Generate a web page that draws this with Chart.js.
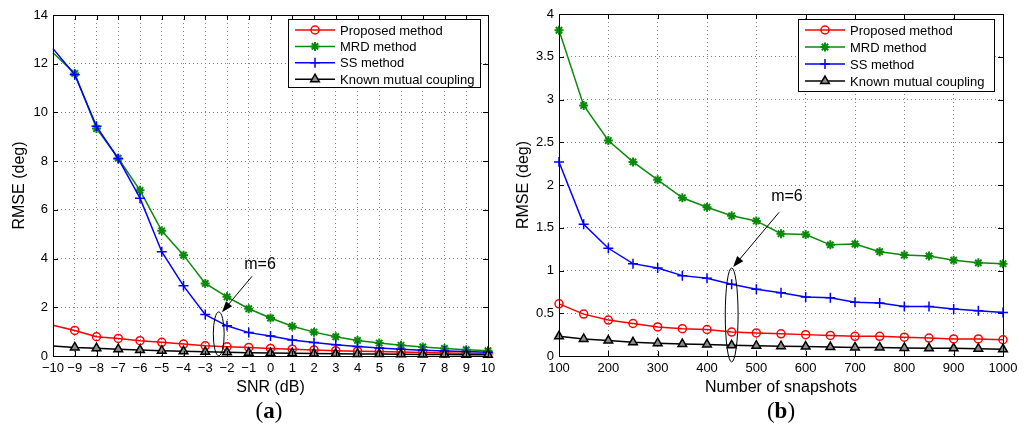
<!DOCTYPE html>
<html>
<head>
<meta charset="utf-8">
<script src="https://cdn.jsdelivr.net/npm/chart.js"></script>
<style>
  html, body { margin: 0; padding: 0; background: #fff; }
  body { width: 1024px; height: 438px; position: relative; overflow: hidden; }
  .panel { position: absolute; top: 0; width: 512px; height: 438px; }
  .caption { position: absolute; top: 398px; font-family: "Liberation Serif", serif; font-size: 23px; color: #000; transform: translateX(-50%); }
</style>
</head>
<body>
<div class="panel" style="left:0"><canvas id="chartA"></canvas></div>
<div class="panel" style="left:512px"><canvas id="chartB"></canvas></div>
<div class="caption" style="left:269px">(<b>a</b>)</div>
<div class="caption" style="left:781px">(<b>b</b>)</div>
<script>
// (a) RMSE against SNR
const snr = [-10, -9, -8, -7, -6, -5, -4, -3, -2, -1, 0, 1, 2, 3, 4, 5, 6, 7, 8, 9, 10];
const proposedA = [1.26, 1.05, 0.79, 0.72, 0.63, 0.56, 0.49, 0.42, 0.38, 0.35, 0.31, 0.28, 0.25, 0.22, 0.2, 0.18, 0.16, 0.14, 0.12, 0.11, 0.1];
const mrdA = [12.45, 11.6, 9.34, 8.12, 6.8, 5.14, 4.14, 2.98, 2.43, 1.94, 1.56, 1.22, 0.98, 0.79, 0.64, 0.53, 0.44, 0.37, 0.31, 0.26, 0.22];
const ssA = [12.62, 11.55, 9.43, 8.1, 6.48, 4.28, 2.88, 1.7, 1.24, 0.96, 0.82, 0.66, 0.55, 0.46, 0.39, 0.33, 0.28, 0.24, 0.21, 0.18, 0.15];
const knownA = [0.41, 0.35, 0.32, 0.28, 0.25, 0.22, 0.19, 0.17, 0.15, 0.13, 0.12, 0.11, 0.1, 0.09, 0.085, 0.08, 0.07, 0.065, 0.06, 0.055, 0.05];
const xTicksA = [-10, -9, -8, -7, -6, -5, -4, -3, -2, -1, 0, 1, 2, 3, 4, 5, 6, 7, 8, 9, 10];
const yTicksA = [0, 2, 4, 6, 8, 10, 12, 14];

// (b) RMSE against number of snapshots
const snapshots = [100, 150, 200, 250, 300, 350, 400, 450, 500, 550, 600, 650, 700, 750, 800, 850, 900, 950, 1000];
const proposedB = [0.61, 0.49, 0.42, 0.38, 0.34, 0.32, 0.31, 0.28, 0.27, 0.26, 0.25, 0.24, 0.23, 0.23, 0.22, 0.21, 0.2, 0.2, 0.19];
const mrdB = [3.81, 2.93, 2.52, 2.27, 2.06, 1.85, 1.74, 1.64, 1.58, 1.43, 1.42, 1.3, 1.31, 1.22, 1.18, 1.17, 1.12, 1.09, 1.08];
const ssB = [2.27, 1.54, 1.26, 1.08, 1.03, 0.94, 0.91, 0.84, 0.78, 0.74, 0.69, 0.68, 0.63, 0.62, 0.58, 0.58, 0.55, 0.53, 0.51];
const knownB = [0.23, 0.2, 0.18, 0.16, 0.15, 0.14, 0.135, 0.125, 0.12, 0.115, 0.11, 0.105, 0.1, 0.1, 0.095, 0.09, 0.09, 0.085, 0.08];
const xTicksB = [100, 200, 300, 400, 500, 600, 700, 800, 900, 1000];
const yTicksB = [0, 0.5, 1, 1.5, 2, 2.5, 3, 3.5, 4];

const legendNames = ['Proposed method', 'MRD method', 'SS method', 'Known mutual coupling'];

const FONT = '"Liberation Sans", Arial, sans-serif';

function drawMarker(ctx, style, x, y, r, stroke, fill) {
  ctx.save();
  ctx.strokeStyle = stroke;
  ctx.fillStyle = fill;
  ctx.lineWidth = style === 'star' ? 2 : 1.5;
  ctx.beginPath();
  if (style === 'circle') {
    ctx.arc(x, y, r, 0, Math.PI * 2);
  } else if (style === 'triangle') {
    for (let k = 0; k < 3; k++) {
      const a = k * Math.PI * 2 / 3;
      const px = x + Math.sin(a) * r, py = y - Math.cos(a) * r;
      k ? ctx.lineTo(px, py) : ctx.moveTo(px, py);
    }
    ctx.closePath();
    ctx.fill();
  } else {
    const n = style === 'star' ? 8 : 4;
    for (let k = 0; k < n; k++) {
      const a = k * Math.PI / (n / 2);
      ctx.moveTo(x, y);
      ctx.lineTo(x + Math.cos(a) * r, y + Math.sin(a) * r);
    }
  }
  ctx.stroke();
  ctx.restore();
}

// frame, inward ticks, legend box and the m=6 note
const matlabLook = {
  id: 'matlabLook',
  afterDraw(chart, args, opts) {
    const {ctx, chartArea: a, scales: {x, y}} = chart;
    ctx.save();
    ctx.strokeStyle = '#000';
    ctx.lineWidth = 1;
    ctx.strokeRect(Math.round(a.left) + 0.5, Math.round(a.top) + 0.5, Math.round(a.right - a.left), Math.round(a.bottom - a.top));
    ctx.beginPath();
    x.ticks.forEach(t => {
      const px = Math.round(x.getPixelForValue(t.value)) + 0.5;
      ctx.moveTo(px, a.bottom); ctx.lineTo(px, a.bottom - 5);
      ctx.moveTo(px, a.top); ctx.lineTo(px, a.top + 5);
    });
    y.ticks.forEach(t => {
      const py = Math.round(y.getPixelForValue(t.value)) + 0.5;
      ctx.moveTo(a.left, py); ctx.lineTo(a.left + 5, py);
      ctx.moveTo(a.right, py); ctx.lineTo(a.right - 5, py);
    });
    ctx.stroke();

    // legend
    const L = opts.legend;
    const bx = a.right - L.inset - L.width, by = a.top + L.top;
    ctx.fillStyle = '#fff';
    ctx.fillRect(bx, by, L.width, L.height);
    ctx.strokeRect(Math.round(bx) + 0.5, Math.round(by) + 0.5, L.width, L.height);
    ctx.font = '13px ' + FONT;
    ctx.textBaseline = 'middle';
    chart.data.datasets.forEach((ds, i) => {
      const ry = by + 11 + i * L.row;
      ctx.strokeStyle = ds.borderColor;
      ctx.lineWidth = 1.5;
      ctx.beginPath();
      ctx.moveTo(bx + 7, ry); ctx.lineTo(bx + 47, ry);
      ctx.stroke();
      drawMarker(ctx, ds.pointStyle, bx + 27, ry, ds.legendRadius, ds.pointBorderColor, ds.pointBackgroundColor);
      ctx.fillStyle = '#000';
      ctx.fillText(ds.label, bx + 52, ry + 1);
    });

    // note: ellipse + arrow + text
    const N = opts.note;
    const cx = x.getPixelForValue(N.ellipse[0]), cy = y.getPixelForValue(N.ellipse[1]);
    const rx = Math.abs(x.getPixelForValue(N.ellipse[0] + N.ellipse[2]) - cx);
    const ry = Math.abs(y.getPixelForValue(N.ellipse[1] + N.ellipse[3]) - cy);
    ctx.strokeStyle = '#000';
    ctx.lineWidth = 1;
    ctx.beginPath();
    ctx.ellipse(cx, cy, rx, ry, 0, 0, Math.PI * 2);
    ctx.stroke();
    const x1 = x.getPixelForValue(N.from[0]), y1 = y.getPixelForValue(N.from[1]);
    const x2 = x.getPixelForValue(N.to[0]), y2 = y.getPixelForValue(N.to[1]);
    const ang = Math.atan2(y2 - y1, x2 - x1);
    ctx.beginPath();
    ctx.moveTo(x1, y1); ctx.lineTo(x2 - Math.cos(ang) * 8, y2 - Math.sin(ang) * 8);
    ctx.stroke();
    ctx.fillStyle = '#000';
    ctx.beginPath();
    ctx.moveTo(x2, y2);
    ctx.lineTo(x2 - Math.cos(ang) * 11 + Math.sin(ang) * 4, y2 - Math.sin(ang) * 11 - Math.cos(ang) * 4);
    ctx.lineTo(x2 - Math.cos(ang) * 11 - Math.sin(ang) * 4, y2 - Math.sin(ang) * 11 + Math.cos(ang) * 4);
    ctx.closePath();
    ctx.fill();
    ctx.font = '16px ' + FONT;
    ctx.textAlign = 'center';
    ctx.fillText('m=6', x.getPixelForValue(N.text[0]), y.getPixelForValue(N.text[1]));
    ctx.restore();
  }
};

function series(xs, ys, i, skipFirst) {
  const colors = ['#ff0000', '#0a8a0a', '#0000ff', '#000000'];
  const styles = ['circle', 'star', 'cross', 'triangle'];
  const radius = [4, 4.5, 5, 5];
  return {
    label: legendNames[i],
    data: xs.map((v, k) => ({x: v, y: ys[k]})),
    borderColor: colors[i],
    borderWidth: 1.5,
    pointStyle: styles[i],
    legendRadius: radius[i],
    pointRadius: c => (skipFirst && c.dataIndex === 0) ? 0 : radius[i],
    pointBorderColor: colors[i],
    pointBackgroundColor: i === 3 ? '#8c8c8c' : 'rgba(0,0,0,0)',
    pointBorderWidth: i === 1 ? 2 : 1.5,
    tension: 0,
    clip: false,
    order: 3 - i
  };
}

function makeChart(id, cfg) {
  const grid = {color: '#808080', lineWidth: 1, drawTicks: false, borderDash: [1, 3]};
  return new Chart(document.getElementById(id), {
    type: 'line',
    data: {datasets: cfg.datasets},
    options: {
      responsive: true,
      maintainAspectRatio: false,
      animation: false,
      layout: {padding: {top: cfg.top, right: cfg.right, left: 0, bottom: 0}},
      plugins: {
        legend: {display: false},
        tooltip: {enabled: false},
        matlabLook: {legend: cfg.legend, note: cfg.note}
      },
      scales: {
        x: {
          type: 'linear', min: cfg.xMin, max: cfg.xMax,
          afterBuildTicks: s => { s.ticks = cfg.xTicks.map(v => ({value: v})); },
          afterFit: s => { s.height = 82; },
          grid: grid,
          border: {display: false, dash: [1, 3]},
          ticks: {
            padding: 5, color: '#000', maxRotation: 0, autoSkip: false,
            font: {family: FONT, size: 13},
            callback: v => String(v).replace('-', '\u2212')
          },
          title: {display: true, text: cfg.xTitle, color: '#000', font: {family: FONT, size: 16}, padding: {top: 0, bottom: 41}}
        },
        y: {
          type: 'linear', min: cfg.yMin, max: cfg.yMax,
          afterBuildTicks: s => { s.ticks = cfg.yTicks.map(v => ({value: v})); },
          afterFit: s => { s.width = cfg.yWidth; },
          grid: grid,
          border: {display: false, dash: [1, 3]},
          ticks: {padding: 5, color: '#000', font: {family: FONT, size: 13}, callback: v => String(v)},
          title: {display: true, text: 'RMSE (deg)', color: '#000', font: {family: FONT, size: 16}, padding: {top: cfg.yTitlePad, bottom: 0}}
        }
      }
    },
    plugins: [matlabLook]
  });
}

makeChart('chartA', {
  datasets: [
    series(snr, proposedA, 0, true),
    series(snr, mrdA, 1, true),
    series(snr, ssA, 2, true),
    series(snr, knownA, 3, true)
  ],
  xMin: -10, xMax: 10, yMin: 0, yMax: 14,
  xTicks: xTicksA, yTicks: yTicksA,
  xTitle: 'SNR (dB)',
  top: 15, right: 24, yWidth: 53, yTitlePad: 10,
  legend: {inset: 8, top: 4, width: 192, height: 68, row: 16.4},
  note: {ellipse: [-2.38, 0.91, 0.25, 0.9], from: [-0.85, 3.27], to: [-2.23, 1.8], text: [-0.48, 3.77]}
});

makeChart('chartB', {
  datasets: [
    series(snapshots, proposedB, 0, false),
    series(snapshots, mrdB, 1, false),
    series(snapshots, ssB, 2, false),
    series(snapshots, knownB, 3, false)
  ],
  xMin: 100, xMax: 1000, yMin: 0, yMax: 4,
  xTicks: xTicksB, yTicks: yTicksB,
  xTitle: 'Number of snapshots',
  top: 14, right: 21, yWidth: 47, yTitlePad: 2,
  legend: {inset: 9, top: 5, width: 196, height: 72, row: 17},
  note: {ellipse: [450, 0.48, 13, 0.55], from: [546, 1.68], to: [453, 1.04], text: [562, 1.86]}
});
</script>
</body>
</html>
